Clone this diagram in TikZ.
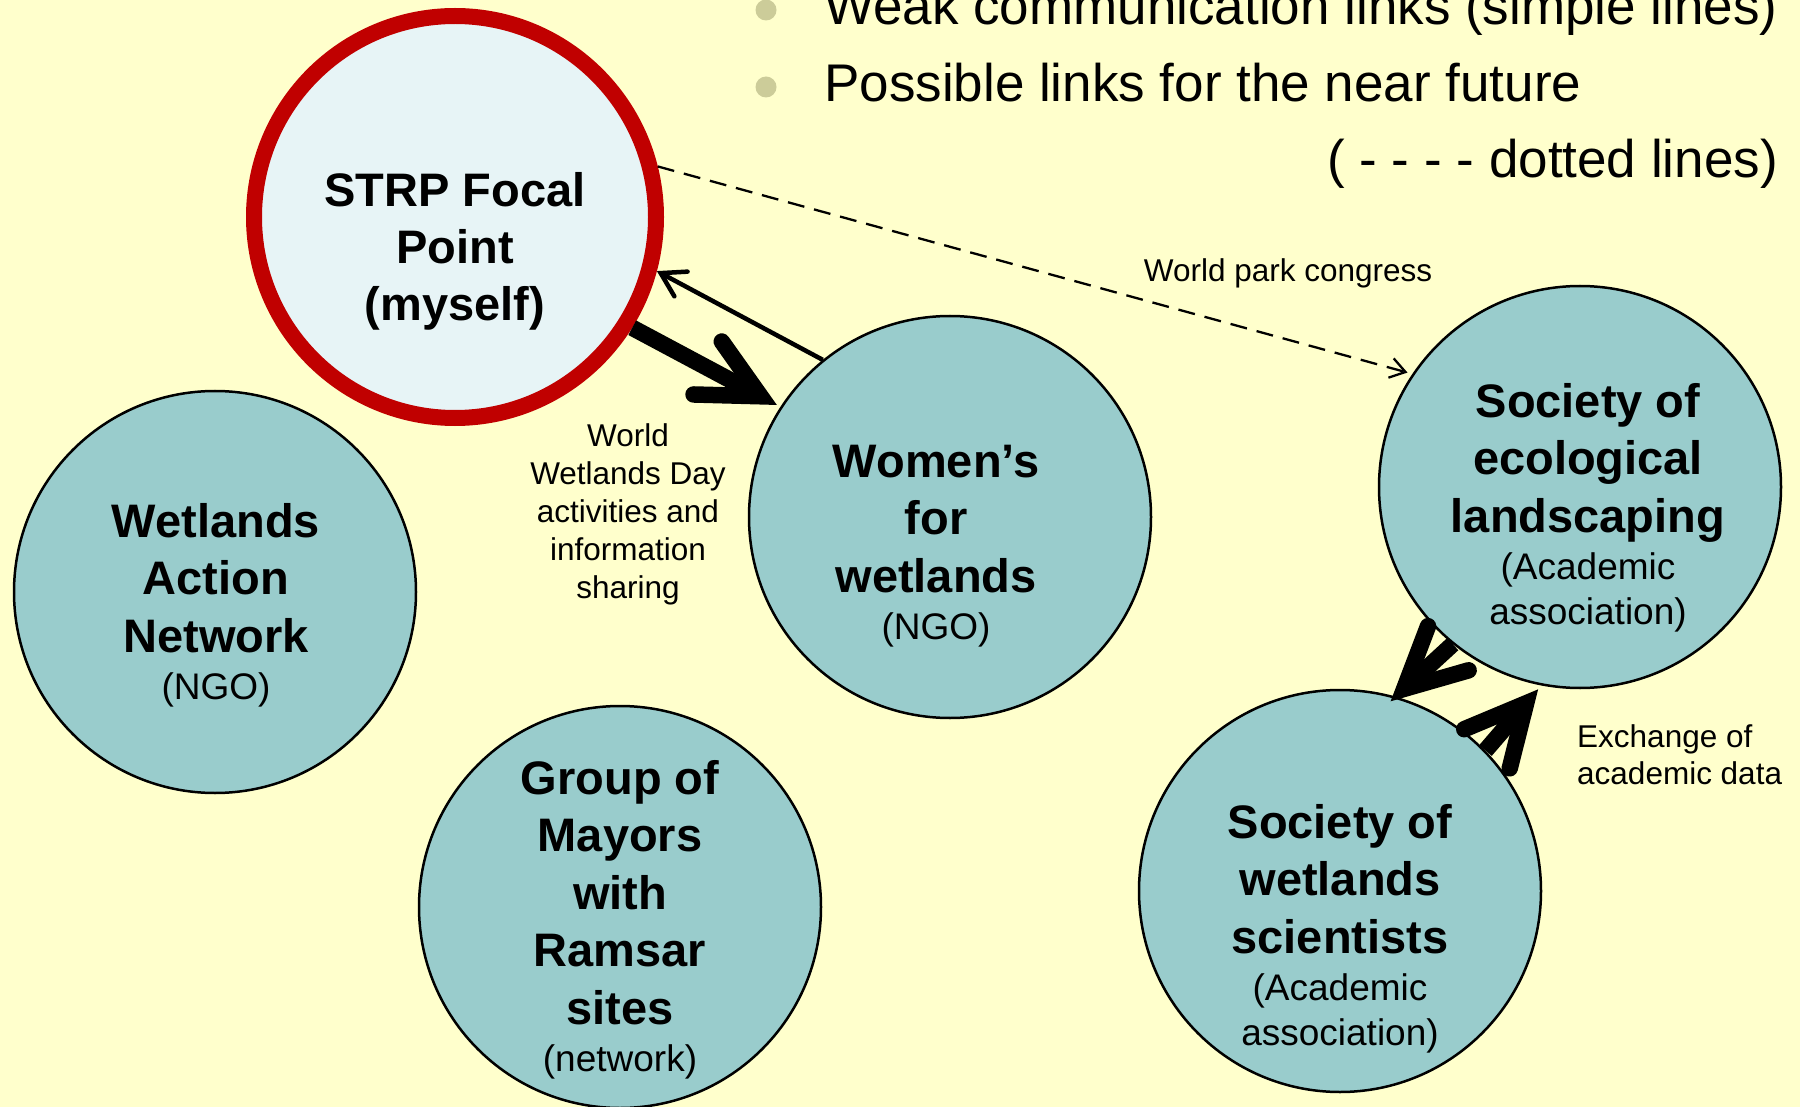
\documentclass[tikz,border=0pt]{standalone}
\usepackage{fontspec}
\setmainfont{Liberation Sans}
\usetikzlibrary{arrows.meta}
\definecolor{bgyellow}{HTML}{FFFFCC}
\definecolor{tealfill}{HTML}{99CCCC}
\definecolor{palefill}{HTML}{E7F4F6}
\definecolor{ringred}{HTML}{C00000}
\definecolor{bulletc}{HTML}{CCCC99}
\newcommand{\smalltxt}[1]{{\fontsize{37}{45}\selectfont\mdseries #1}}
\tikzset{
  orgcircle/.style={circle, draw=black, line width=2.5pt, fill=tealfill, minimum size=402pt, inner sep=0pt},
  focalcircle/.style={circle, draw=ringred, line width=16pt, fill=palefill, minimum size=402pt, inner sep=0pt},
  bigtxt/.style={align=center, inner sep=0pt, font=\fontsize{47}{57.5}\selectfont\bfseries, anchor=base},
  labeltxt/.style={align=center, inner sep=0pt, font=\fontsize{31.5}{38}\selectfont, anchor=base},
  toptxt/.style={inner sep=0pt, font=\fontsize{53}{64}\selectfont},
  bulletdot/.style={circle, fill=bulletc, minimum size=21pt, inner sep=0pt},
  thickarrow/.style={line width=16.5pt, -{Straight Barb[length=60pt, width=60pt, line cap=round, line join=miter]}},
  thinarrow/.style={line width=4.5pt, -{Straight Barb[length=23pt, width=28pt, line cap=round, line join=miter]}},
  dasharrow/.style={line width=2.3pt, dash pattern=on 17pt off 10pt, -{Straight Barb[length=15pt, width=20pt, line join=miter]}},
}
\begin{document}
\begin{tikzpicture}[x=1pt, y=-1pt]
\path[use as bounding box, fill=bgyellow] (0,0) rectangle (1800,1107);

% top legend
\node[bulletdot] (b1) at (766,10) {};
\node[toptxt, anchor=base west] (t1) at (824,25) {Weak communication links (simple lines)};
\node[bulletdot] (b2) at (766,87) {};
\node[toptxt, anchor=base west] (t2) at (824,102) {Possible links for the near future};
\node[toptxt, anchor=base east] (t3) at (1778,178) {( - - - - dotted lines)};

% circles
\node[focalcircle] (strp) at (455,217) {};
\node[orgcircle] (wan) at (215,592) {};
\node[orgcircle] (wom) at (950,517) {};
\node[orgcircle] (may) at (620,907) {};
\node[orgcircle] (eco) at (1580,487) {};
\node[orgcircle] (sci) at (1340,891) {};

% circle texts (anchored at the baseline of their last line)
\node[bigtxt] (strptxt) at (455,321) {STRP Focal\\Point\\(myself)};
\node[bigtxt] (wantxt) at (216,699) {Wetlands\\Action\\Network\\[-10.5pt]\smalltxt{(NGO)}};
\node[bigtxt] (womtxt) at (936,639) {Women’s\\for\\wetlands\\[-10.5pt]\smalltxt{(NGO)}};
\node[bigtxt] (maytxt) at (620,1071) {Group of\\Mayors\\with\\Ramsar\\sites\\[-10.5pt]\smalltxt{(network)}};
\node[bigtxt] (ecotxt) at (1588,624) {Society of\\ecological\\landscaping\\[-10.5pt]\smalltxt{(Academic}\\[-12.5pt]\smalltxt{association)}};
\node[bigtxt] (scitxt) at (1340,1045) {Society of\\wetlands\\scientists\\[-10.5pt]\smalltxt{(Academic}\\[-12.5pt]\smalltxt{association)}};

% labels
\node[labeltxt] (wpc) at (1288,282) {World park congress};
\node[labeltxt] (wwd) at (628,598) {World\\Wetlands Day\\activities and\\information\\sharing};
\node[labeltxt, align=left, anchor=base west, font=\fontsize{31.5}{37}\selectfont] (exch) at (1577,784) {Exchange of\\academic data};

% connectors
\draw[thinarrow] (wom.129) -- (strp.-15);
\draw[thickarrow, shorten >=4pt] (strp.-32) -- (wom.147);
\draw[dasharrow, shorten >=5pt] (strp.14.5) -- (eco.146.7);
\draw[thickarrow, shorten >=-7pt] (eco.-129) -- (sci.74);
\draw[thickarrow, shorten >=5pt] (sci.44.4) -- (eco.-101);
\end{tikzpicture}
\end{document}
